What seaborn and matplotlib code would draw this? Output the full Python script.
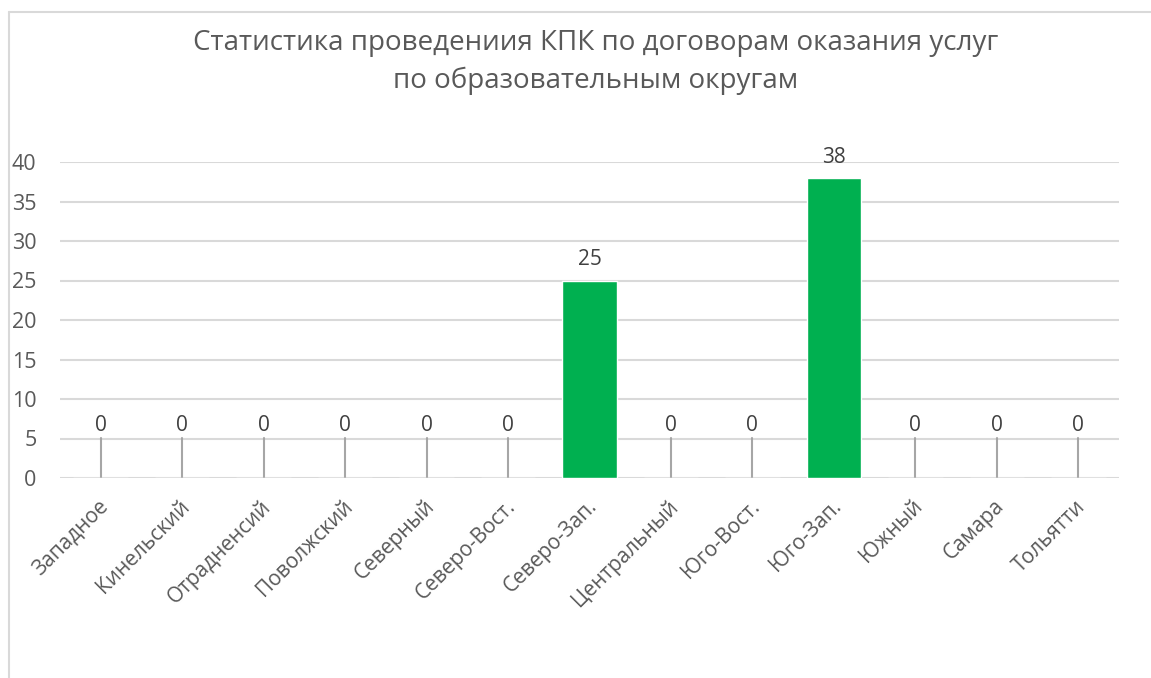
import numpy as np
import pandas as pd
import matplotlib.pyplot as plt
import matplotlib.transforms as mtransforms
from matplotlib.lines import Line2D
import seaborn as sns

# Data
districts = ['Западное', 'Кинельский', 'Отрадненсий', 'Поволжский', 'Северный',
             'Северо-Вост.', 'Северо-Зап.', 'Центральный', 'Юго-Вост.', 'Юго-Зап.',
             'Южный', 'Самара', 'Тольятти']
courses = [0, 0, 0, 0, 0, 0, 25, 0, 0, 38, 0, 0, 0]
y_ticks = [0, 5, 10, 15, 20, 25, 30, 35, 40]

title = 'Статистика проведениия КПК по договорам оказания услуг\nпо образовательным округам'

data = pd.DataFrame({'Округ': districts, 'КПК': courses})

sns.set_theme(style='white')
plt.rcParams['font.family'] = ['Open Sans', 'DejaVu Sans']

fig = plt.figure(figsize=(11.51, 6.78), dpi=100)
W, H = 1151, 678
ax = fig.add_axes([60 / W, 1 - 478 / H, (1119 - 60) / W, (478 - 162) / H])

sns.barplot(data=data, x='Округ', y='КПК', color='#00B050', width=0.67,
            saturation=1, ax=ax, zorder=3)

ax.set_ylim(0, 40)
ax.set_xlim(-0.5, len(districts) - 0.5)
ax.set_yticks(y_ticks)
ax.yaxis.grid(True, color='#D9D9D9', linewidth=1.5, zorder=0)
ax.set_axisbelow(True)
for s in ax.spines.values():
    s.set_visible(False)
ax.set_xlabel('')
ax.set_ylabel('')
ax.tick_params(axis='y', length=0, pad=17, labelsize=15.5, labelcolor='#595959')
ax.tick_params(axis='x', length=0, pad=10, labelsize=15, labelcolor='#595959')
plt.setp(ax.get_xticklabels(), rotation=45, ha='right', rotation_mode='anchor')
offset = mtransforms.ScaledTranslation(-3 / 100, -4 / 100, fig.dpi_scale_trans)
for lbl in ax.get_xticklabels():
    lbl.set_transform(lbl.get_transform() + offset)

# value labels, zero values get a leader line
for i, v in enumerate(courses):
    if v > 0:
        ax.text(i, v + 2.6, str(v), ha='center', va='center', fontsize=15,
                color='#404040', clip_on=False)
    else:
        ax.plot([i, i], [0, 5.1], color='#A6A6A6', linewidth=1.5, zorder=2)
        ax.text(i, 6.6, '0', ha='center', va='center', fontsize=15,
                color='#404040')

fig.text(596 / W, 1 - 62 / H, title, ha='center', va='center', fontsize=20,
         color='#595959', linespacing=1.45)

# chart area border
fig.add_artist(Line2D([9 / W, 9 / W], [0, 1 - 12 / H], color='#D9D9D9', linewidth=1.5))
fig.add_artist(Line2D([9 / W, 1.01], [1 - 12 / H, 1 - 12 / H], color='#D9D9D9', linewidth=1.5))

fig.savefig('out.png', dpi=100)
